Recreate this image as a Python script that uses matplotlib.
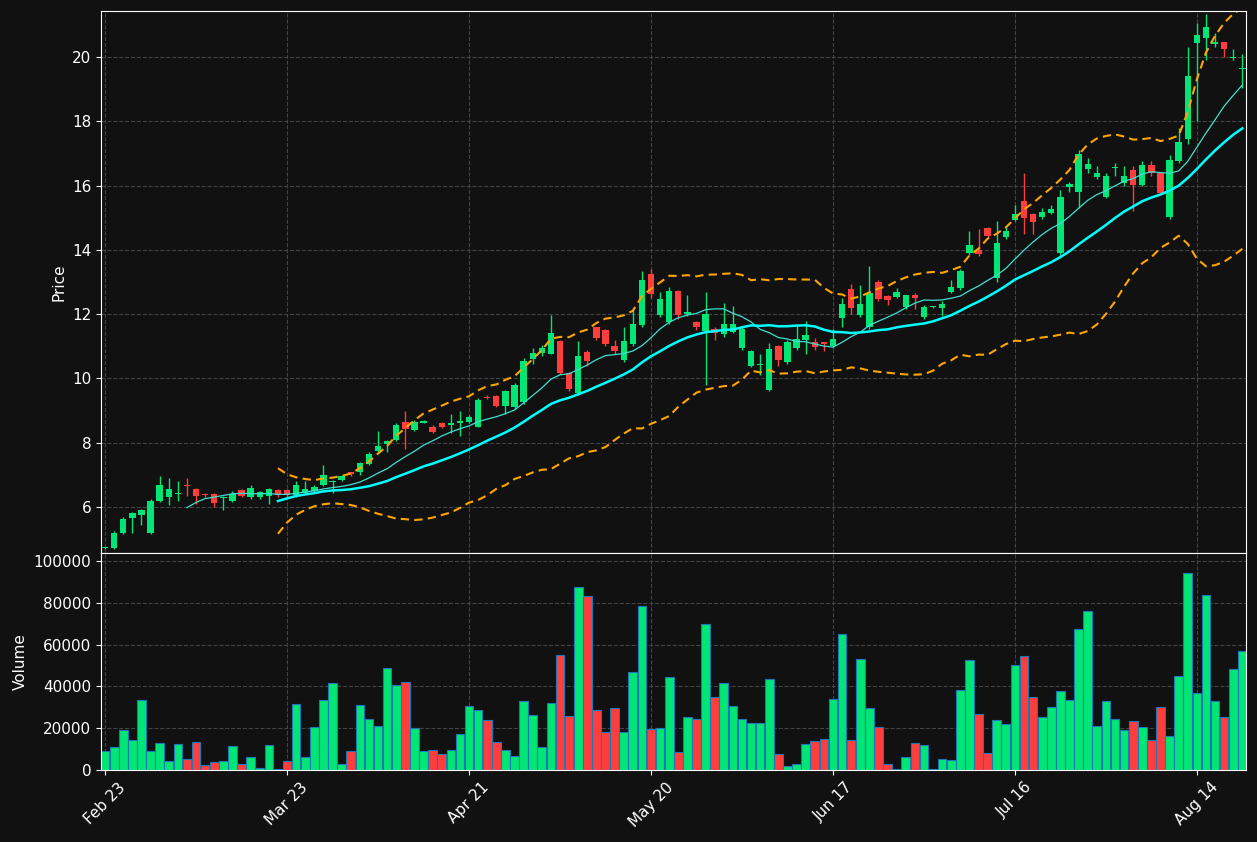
import matplotlib
matplotlib.use("Agg")
import matplotlib.pyplot as plt
import numpy as np
import pandas as pd

tick_labels = ["Feb 23", "Mar 23", "Apr 21", "May 20", "Jun 17", "Jul 16", "Aug 14"]
tick_pos = [0, 20, 40, 60, 80, 100, 120]

opens = [4.72,4.73,5.18,5.66,5.75,5.2,6.2,6.3,6.4,6.7,6.55,6.42,6.4,6.28,6.2,6.53,6.3,6.3,6.35,6.53,
         6.53,6.37,6.45,6.5,6.7,6.78,6.84,7.1,7.1,7.34,7.74,7.97,8.1,8.64,8.4,8.6,8.5,8.6,8.55,8.6,
         8.65,8.5,9.4,9.45,9.15,9.1,9.28,10.6,10.8,10.77,11.17,10.17,9.55,10.82,11.6,11.5,11.0,10.57,11.07,11.66,
         13.25,11.97,11.75,12.72,12.0,11.75,11.47,11.55,11.38,11.45,10.95,10.4,10.42,9.64,11.0,10.5,10.95,11.2,11.14,11.14,
         11.0,11.88,12.78,11.97,11.6,13.0,12.56,12.53,12.22,12.6,11.9,12.22,12.2,12.68,12.81,13.9,14.0,14.68,13.13,14.4,
         14.93,15.52,15.12,15.02,15.15,13.9,15.95,15.8,16.52,16.27,15.65,16.55,16.08,16.48,16.02,16.65,16.4,15.02,16.77,17.45,
         20.43,20.6,20.4,20.47,19.97,19.62]
closes = [4.72,5.2,5.63,5.81,5.9,6.2,6.7,6.55,6.45,6.65,6.35,6.38,6.12,6.3,6.42,6.35,6.6,6.47,6.57,6.37,
          6.37,6.69,6.57,6.63,7.0,6.78,6.96,7.02,7.37,7.65,7.9,8.05,8.55,8.42,8.64,8.67,8.33,8.5,8.62,8.67,
          8.8,9.33,9.38,9.15,9.6,9.8,10.55,10.8,10.95,11.4,10.17,9.67,10.7,10.54,11.25,11.07,10.85,11.17,11.7,13.06,
          12.63,12.47,12.72,11.97,12.07,11.6,12.0,11.42,11.7,11.7,11.54,10.85,10.42,10.92,10.57,11.14,11.23,11.35,10.98,11.07,
          11.23,12.32,12.19,12.32,12.66,12.47,12.44,12.68,12.6,12.5,12.22,12.22,12.32,12.84,13.34,14.15,13.87,14.43,14.22,14.6,
          15.12,15.0,14.87,15.18,15.27,15.65,16.05,16.98,16.67,16.4,16.3,16.55,16.3,16.02,16.65,16.4,15.77,16.8,17.36,19.4,
          20.69,20.93,20.47,20.25,20.0,19.62]
highs = [4.75,5.25,5.7,5.85,5.95,6.25,6.95,6.9,6.8,6.9,6.6,6.45,6.45,6.35,6.5,6.55,6.7,6.5,6.6,6.55,
         6.55,6.8,6.8,6.7,7.3,6.85,7.0,7.1,7.4,7.7,8.35,8.1,8.6,9.0,8.7,8.7,8.55,8.65,8.9,9.0,
         8.85,9.4,9.5,9.5,9.65,9.85,10.65,10.95,11.05,11.97,11.2,10.2,11.15,10.9,11.5,11.55,11.2,11.6,12.2,13.35,
         13.4,12.7,12.85,12.75,12.6,11.8,12.7,11.6,12.35,12.25,11.6,10.9,10.75,11.1,11.05,11.2,11.65,11.8,11.25,11.1,
         11.55,12.5,12.95,12.9,13.5,13.05,12.6,12.8,12.6,12.65,12.3,12.25,12.4,13.05,13.4,14.6,14.65,14.7,14.9,14.7,
         15.4,16.4,15.15,15.3,15.4,15.85,16.1,17.1,16.85,16.6,16.4,16.7,16.6,16.6,16.75,16.75,16.4,16.95,17.8,20.3,
         21.05,21.35,20.75,20.35,20.25,20.1]
lows = [4.7,4.7,5.15,5.2,5.45,5.15,6.15,6.05,6.2,6.35,6.1,6.3,6.0,5.9,6.15,6.3,6.25,6.25,6.1,6.3,
        6.3,6.3,6.4,6.45,6.65,6.45,6.8,6.95,7.0,7.3,7.7,7.7,8.05,7.8,8.35,8.6,8.3,8.45,8.3,8.2,
        8.6,8.5,9.35,9.1,8.9,9.05,9.2,10.45,10.7,10.75,10.15,9.6,9.5,10.4,11.2,11.0,10.75,10.5,11.0,11.6,
        12.5,11.9,11.7,11.85,11.95,11.5,9.8,11.2,11.3,11.4,10.9,10.35,10.1,9.6,10.4,10.45,10.9,10.75,10.9,10.85,
        10.95,11.6,12.0,11.9,11.55,12.4,12.3,12.5,12.15,12.15,11.85,12.2,11.95,12.65,12.75,13.85,13.8,14.4,13.0,14.35,
        14.9,14.5,14.5,14.95,15.1,13.85,15.8,15.3,16.4,16.2,15.6,16.3,16.0,15.2,16.0,16.3,15.7,14.95,16.7,17.3,
        18.0,19.9,20.3,20.0,19.9,19.05]
volumes = [9000,11000,19000,14500,33500,9000,13000,4500,12500,5500,13500,2500,4000,4500,11500,3000,6000,1000,12000,500,
           4500,31500,6000,20500,33500,41500,3000,9000,31000,24500,21000,49000,40500,42000,20000,9000,9500,7500,9500,17000,
           30500,28500,24000,13500,9500,6500,33000,26500,11000,32000,55000,26000,87500,83000,28500,18000,29500,18000,47000,78500,
           19500,20000,44500,8500,25500,24500,70000,35000,41500,30500,24500,22500,22500,43500,7500,2000,3000,12500,14000,15000,
           34000,65000,14500,53000,29500,20500,3000,500,6000,13000,12000,500,5500,5000,38500,52500,27000,8000,24000,22000,
           50000,54500,35000,25500,30000,38000,33500,67500,76000,21000,33000,24500,19000,23500,20500,14500,30000,16500,45000,94000,
           37000,83500,33000,25500,48500,57000]

o = np.array(opens); c = np.array(closes); h = np.array(highs); l = np.array(lows); v = np.array(volumes)
x = np.arange(len(o))
s = pd.Series(c)
ma10 = s.rolling(10).mean()
ma20 = s.rolling(20).mean()
sd20 = s.rolling(20).std()
up = ma20 + 2 * sd20
dn = ma20 - 2 * sd20

GREEN = "#00e676"; RED = "#ff3d3d"; BG = "#111111"
colors = np.where(c >= o, GREEN, RED)

fig = plt.figure(figsize=(12.57, 8.42), dpi=100, facecolor=BG)
ax1 = fig.add_axes([101/1257, 1-553/842, 1145/1257, 542/842], facecolor=BG)
ax2 = fig.add_axes([101/1257, 1-770/842, 1145/1257, 217/842], facecolor=BG, sharex=ax1)

ax1.vlines(x, l, h, colors=colors, linewidth=1)
body_h = np.maximum(np.abs(c - o), 0.03)
ax1.bar(x, body_h, bottom=np.minimum(o, c), width=0.7, color=colors)
ax1.plot(x, ma10, color="#40e0d0", lw=0.9)
ax1.plot(x, ma20, color="#00ffff", lw=1.8)
ax1.plot(x, up, color="#ffa500", lw=1.5, ls=(0, (4, 2.5)))
ax1.plot(x, dn, color="#ffa500", lw=1.5, ls=(0, (4, 2.5)))

ax2.bar(x, v, width=0.95, color=colors, edgecolor="#1f77b4", linewidth=0.8)

for ax in (ax1, ax2):
    ax.grid(True, color="#444444", ls="--", lw=0.8)
    ax.set_axisbelow(True)
    for sp in ax.spines.values():
        sp.set_color("white")
    ax.tick_params(colors="white", labelsize=11)
ax1.set_xlim(-0.45, 125.4)
ax1.set_ylim(4.57, 21.43)
ax1.set_yticks([6, 8, 10, 12, 14, 16, 18, 20])
ax2.set_ylim(0, 103800)
ax2.set_yticks([0, 20000, 40000, 60000, 80000, 100000])
ax1.set_ylabel("Price", color="white", fontsize=11)
ax2.set_ylabel("Volume", color="white", fontsize=11)
ax1.tick_params(labelbottom=False)
ax2.set_xticks(tick_pos)
ax2.set_xticklabels(tick_labels, rotation=45, ha="center")

fig.savefig("out.png", dpi=100, facecolor=BG)
